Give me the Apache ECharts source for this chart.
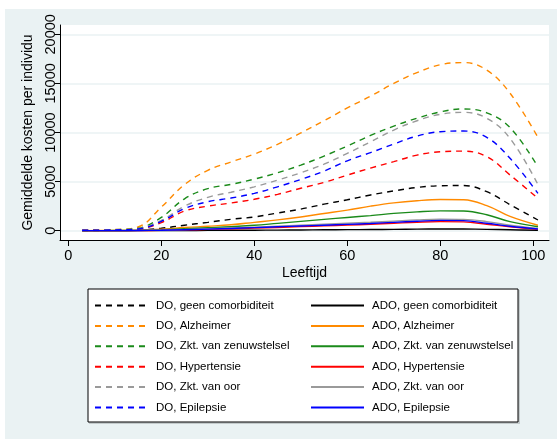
<!DOCTYPE html>
<html>
<head>
<meta charset="utf-8">
<script src="https://cdn.jsdelivr.net/npm/echarts@6/dist/echarts.min.js"></script>
<style>
html, body { margin: 0; padding: 0; background: #ffffff; }
#chart { width: 557px; height: 439px; }
</style>
</head>
<body>
<div id="chart"></div>
<script>
// Age (years) at which each curve is sampled
const ages = [3, 10, 15, 20, 25, 30, 35, 40, 45, 50, 55, 60, 65, 70, 75, 80, 85, 90, 95, 101];

// Average cost per individual, DO (dashed) and ADO (solid)
const doGeen   = [20, 40, 80, 250, 560, 850, 1160, 1400, 1800, 2200, 2700, 3150, 3640, 4050, 4400, 4580, 4600, 3970, 2650, 1090];
const adoGeen  = [0, 0, 5, 10, 20, 30, 40, 50, 60, 75, 90, 105, 120, 140, 160, 175, 170, 140, 90, 40];
const doAlz    = [60, 120, 380, 2400, 4700, 6150, 7000, 7800, 8800, 9950, 11200, 12500, 13700, 15000, 16100, 16900, 17120, 16350, 14000, 9500];
const adoAlz   = [10, 20, 50, 150, 320, 450, 600, 850, 1100, 1400, 1750, 2100, 2500, 2830, 3050, 3170, 3150, 2550, 1450, 550];
const doZen    = [50, 100, 250, 1350, 3250, 4280, 4720, 5250, 5900, 6680, 7600, 8620, 9700, 10650, 11450, 12100, 12400, 12000, 10500, 6500];
const adoZen   = [10, 15, 40, 100, 200, 300, 400, 550, 750, 950, 1150, 1350, 1540, 1760, 1920, 2020, 2000, 1620, 920, 400];
const doHyp    = [40, 70, 160, 820, 2000, 2500, 2820, 3200, 3700, 4320, 4920, 5660, 6380, 7030, 7700, 8040, 8100, 7540, 5670, 3300];
const adoHyp   = [10, 10, 20, 40, 80, 130, 190, 260, 330, 410, 490, 570, 660, 760, 860, 920, 900, 660, 400, 140];
const doOor    = [50, 90, 200, 1050, 2500, 3400, 3920, 4470, 5150, 5900, 6780, 7870, 9050, 10250, 11200, 11850, 12050, 11450, 9400, 4700];
const adoOor   = [10, 10, 25, 60, 120, 200, 280, 360, 450, 550, 650, 760, 860, 980, 1100, 1180, 1150, 920, 560, 230];
const doEpi    = [50, 80, 180, 950, 2250, 2950, 3330, 3800, 4470, 5220, 6070, 7120, 7950, 8830, 9640, 10080, 10150, 9500, 7370, 3800];
const adoEpi   = [10, 10, 20, 50, 100, 160, 230, 310, 400, 480, 560, 640, 740, 850, 960, 1050, 1030, 760, 450, 170];

// Tick labels
const xTicks = [0, 20, 40, 60, 80, 100];
const yTicks = [0, 5000, 10000, 15000, 20000];

const groups = [
  { label: 'geen comorbiditeit',     color: '#000000', dO: doGeen, adO: adoGeen },
  { label: 'Alzheimer',              color: '#ff8a00', dO: doAlz,  adO: adoAlz },
  { label: 'Zkt. van zenuwstelsel',  color: '#1a8a1a', dO: doZen,  adO: adoZen },
  { label: 'Hypertensie',            color: '#ff0000', dO: doHyp,  adO: adoHyp },
  { label: 'Zkt. van oor',           color: '#9a9a9a', dO: doOor,  adO: adoOor },
  { label: 'Epilepsie',              color: '#0000ff', dO: doEpi,  adO: adoEpi }
];

const pairs = (vals) => ages.map((a, i) => [a, vals[i]]);

const series = [];
const doNames = [];
const adoNames = [];
groups.forEach(g => {
  const n1 = 'DO, ' + g.label;
  const n2 = 'ADO, ' + g.label;
  doNames.push(n1);
  adoNames.push(n2);
  series.push({
    name: n1, type: 'line', data: pairs(g.dO), smooth: 0.4, symbol: 'none',
    color: g.color,
    lineStyle: { color: g.color, width: 1.4, type: [6, 5] }
  });
  series.push({
    name: n2, type: 'line', data: pairs(g.adO), smooth: 0.4, symbol: 'none',
    color: g.color,
    lineStyle: { color: g.color, width: 1.4, type: 'solid' }
  });
});

const font = '"Liberation Sans", Arial, sans-serif';

const legendCommon = {
  orient: 'vertical',
  top: 299.5,
  itemWidth: 53,
  itemHeight: 14,
  itemGap: 8.4,
  padding: 0,
  selectedMode: false,
  itemStyle: { opacity: 0 },
  textStyle: { fontFamily: font, fontSize: 11.5, color: '#000', padding: [0, 0, 0, 3] }
};

const chart = echarts.init(document.getElementById('chart'), null, { renderer: 'canvas' });
chart.setOption({
  backgroundColor: '#ffffff',
  animation: false,
  graphic: [
    { type: 'rect', z: -10, silent: true,
      shape: { x: 5, y: 9, width: 552, height: 430 },
      style: { fill: '#eaf2f3' } },
    { type: 'rect', z: -5, silent: true,
      shape: { x: 89, y: 290, width: 431, height: 134 },
      style: { fill: '#c4cbcc' } },
    { type: 'rect', z: -4, silent: true,
      shape: { x: 88, y: 289, width: 430, height: 133 },
      style: { fill: '#ffffff', stroke: '#000000', lineWidth: 1 } }
  ],
  grid: {
    left: 60, top: 25, width: 489, height: 215,
    show: true, backgroundColor: '#ffffff', borderWidth: 0
  },
  xAxis: {
    type: 'value',
    min: -1.785, max: 103.38,
    name: 'Leeftijd',
    nameLocation: 'middle',
    nameGap: 26,
    nameTextStyle: { fontFamily: font, fontSize: 14, color: '#000' },
    axisLine: { show: true, onZero: false, lineStyle: { color: '#000', width: 1 } },
    axisTick: { show: true, length: 6, customValues: xTicks, lineStyle: { color: '#000' } },
    axisLabel: { customValues: xTicks, margin: 8, fontFamily: font, fontSize: 14.5, color: '#000' },
    splitLine: { show: false }
  },
  yAxis: {
    type: 'value',
    min: -947, max: 20947,
    name: 'Gemiddelde kosten per individu',
    nameLocation: 'middle',
    nameGap: 17,
    nameRotate: 90,
    nameTextStyle: { fontFamily: font, fontSize: 14, color: '#000' },
    axisLine: { show: true, onZero: false, lineStyle: { color: '#000', width: 1 } },
    axisTick: { show: true, length: 5, customValues: yTicks, lineStyle: { color: '#000' } },
    axisLabel: {
      customValues: yTicks, rotate: 90, margin: 2,
      fontFamily: font, fontSize: 14.5, color: '#000',
      formatter: (v) => String(v)
    },
    splitLine: { show: true, lineStyle: { color: '#eaf2f3', width: 1.5 } }
  },
  legend: [
    Object.assign({ left: 94, data: doNames }, legendCommon),
    Object.assign({ left: 310, data: adoNames }, legendCommon)
  ],
  series: series
});
</script>
</body>
</html>
